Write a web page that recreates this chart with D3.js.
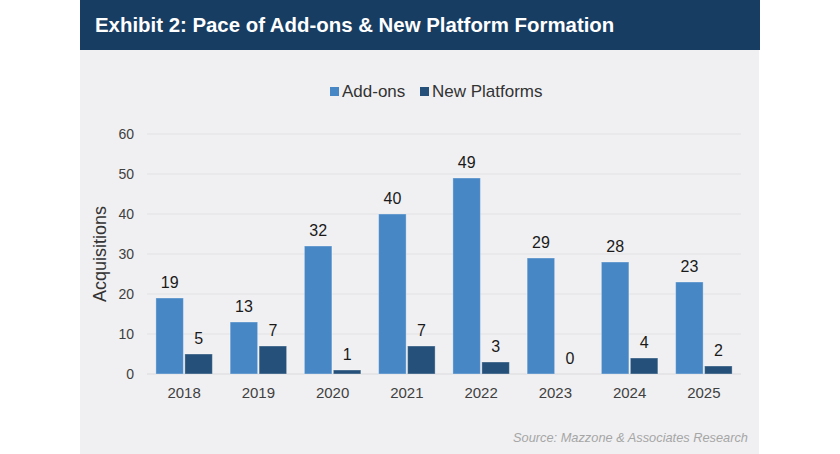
<!DOCTYPE html>
<html>
<head>
<meta charset="utf-8">
<script src="https://cdn.jsdelivr.net/npm/d3@7"></script>
<style>
  body { margin: 0; background: #ffffff; }
  text { font-family: "Liberation Sans", Arial, Helvetica, sans-serif; }
</style>
</head>
<body>
<div id="viz"></div>
<script>
const width = 840;
const height = 454;
const margin = {top: 134, right: 99, bottom: 80, left: 147};

const years = ['2018', '2019', '2020', '2021', '2022', '2023', '2024', '2025'];
const addOns = [19, 13, 32, 40, 49, 29, 28, 23];
const newPlatforms = [5, 7, 1, 7, 3, 0, 4, 2];
const seriesNames = ['Add-ons', 'New Platforms'];
const yTicks = [0, 10, 20, 30, 40, 50, 60];

const colors = ['#4787c6', '#245079'];

const data = years.map((y, i) => ({year: y, values: [addOns[i], newPlatforms[i]]}));

const svg = d3.select('#viz')
  .append('svg')
  .attr('width', width)
  .attr('height', height)
  .attr('viewBox', [0, 0, width, height]);

// Gray panel + title band
svg.append('rect')
  .attr('x', 80).attr('y', 50)
  .attr('width', 679).attr('height', 404)
  .attr('fill', '#f0f0f2');

svg.append('rect')
  .attr('x', 80).attr('y', 0)
  .attr('width', 680).attr('height', 50)
  .attr('fill', '#173d63');

svg.append('text')
  .attr('x', 95).attr('y', 32)
  .attr('fill', '#ffffff')
  .attr('font-size', 20.4)
  .attr('font-weight', 'bold')
  .text('Exhibit 2: Pace of Add-ons & New Platform Formation');

// Scales
const x0 = d3.scaleBand()
  .domain(years)
  .range([margin.left, width - margin.right])
  .paddingInner(0.2)
  .paddingOuter(0.1);

const x1 = d3.scaleBand()
  .domain([0, 1])
  .range([0, x0.bandwidth()])
  .padding(0.05);

const yScale = d3.scaleLinear()
  .domain([0, 60])
  .range([height - margin.bottom, margin.top]);

// Gridlines
svg.append('g')
  .selectAll('line')
  .data(yTicks)
  .join('line')
    .attr('x1', margin.left)
    .attr('x2', width - margin.right)
    .attr('y1', d => yScale(d))
    .attr('y2', d => yScale(d))
    .attr('stroke', d => d === 0 ? '#d9d9dc' : '#e2e2e5')
    .attr('stroke-width', 1.2);

// Y axis labels
const yAxis = svg.append('g')
  .attr('transform', `translate(${margin.left}, 0)`)
  .call(d3.axisLeft(yScale).tickValues(yTicks).tickSize(0).tickPadding(13));
yAxis.select('.domain').remove();
yAxis.selectAll('text')
  .attr('font-size', 14)
  .attr('fill', '#404040')
  .style('font-family', '"Liberation Sans", Arial, sans-serif');

// X axis labels
const xAxis = svg.append('g')
  .attr('transform', `translate(0, ${height - margin.bottom})`)
  .call(d3.axisBottom(x0).tickSize(0).tickPadding(13));
xAxis.select('.domain').remove();
xAxis.selectAll('text')
  .attr('font-size', 15)
  .attr('fill', '#404040')
  .style('font-family', '"Liberation Sans", Arial, sans-serif');

// Y title
svg.append('text')
  .attr('transform', `translate(106, ${yScale(30)}) rotate(-90)`)
  .attr('text-anchor', 'middle')
  .attr('font-size', 18)
  .attr('fill', '#333333')
  .text('Acquisitions');

// Bars
const groups = svg.selectAll('.year')
  .data(data)
  .join('g')
    .attr('class', 'year')
    .attr('transform', d => `translate(${x0(d.year)}, 0)`);

groups.selectAll('rect')
  .data(d => d.values)
  .join('rect')
    .attr('x', (d, i) => x1(i))
    .attr('y', d => yScale(d))
    .attr('width', x1.bandwidth())
    .attr('height', d => yScale(0) - yScale(d))
    .attr('fill', (d, i) => colors[i])
    .attr('stroke', '#ffffff')
    .attr('stroke-opacity', 0.35)
    .attr('stroke-width', 1);

groups.selectAll('.val')
  .data(d => d.values)
  .join('text')
    .attr('class', 'val')
    .attr('x', (d, i) => x1(i) + x1.bandwidth() / 2)
    .attr('y', d => yScale(d) - 10)
    .attr('text-anchor', 'middle')
    .attr('font-size', 16)
    .attr('fill', '#1a1a1a')
    .text(d => d);

// Legend
const legend = svg.append('g').attr('transform', 'translate(330, 0)');
const legendX = [0, 90];
seriesNames.forEach((name, i) => {
  legend.append('rect')
    .attr('x', legendX[i]).attr('y', 87)
    .attr('width', 9).attr('height', 9)
    .attr('fill', colors[i]);
  legend.append('text')
    .attr('x', legendX[i] + 12).attr('y', 97)
    .attr('font-size', 17)
    .attr('fill', '#333333')
    .text(name);
});

// Source
svg.append('text')
  .attr('x', 748).attr('y', 442)
  .attr('text-anchor', 'end')
  .attr('font-size', 12.8)
  .attr('font-style', 'italic')
  .attr('fill', '#a6a6a6')
  .text('Source: Mazzone & Associates Research');
</script>
</body>
</html>
